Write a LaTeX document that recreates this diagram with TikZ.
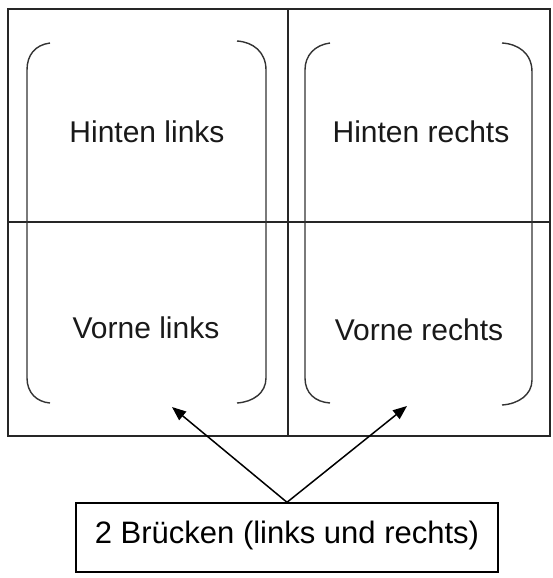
\documentclass[tikz,border=0pt]{standalone}
\usepackage{fontspec}
\setmainfont{Liberation Sans}
\usetikzlibrary{arrows.meta}
\begin{document}
\begin{tikzpicture}[x=1pt,y=-1pt,
  frame/.style={line width=1.4pt,draw=black!85},
  brk/.style={line width=1.4pt,draw=black!80},
  lbl/.style={font=\fontsize{30}{35}\selectfont,text=black!90,inner sep=0pt},
  arr/.style={line width=1.5pt,-{Triangle[length=14pt,width=11pt]}}]
\useasboundingbox (0,0) rectangle (553,578);
% outer frame and dividers
\draw[frame] (8,9) rectangle (550,436);
\draw[frame] (288,9) -- (288,436);
\draw[frame] (8,222) -- (550,222);
% left brackets
\draw[brk] (50,43) .. controls (35,45) and (27,55) .. (27,70) -- (27,378) .. controls (27,393) and (37,402) .. (50,403);
\draw[brk] (237,41) .. controls (253,42) and (266,52) .. (266,70) -- (266,378) .. controls (266,393) and (253,402) .. (237,403);
% right brackets
\draw[brk] (330,43) .. controls (315,45) and (305,55) .. (305,70) -- (305,378) .. controls (305,393) and (315,402) .. (330,403);
\draw[brk] (502,43) .. controls (518,44) and (532,53) .. (532,72) -- (532,380) .. controls (532,395) and (518,404) .. (502,405);
% labels
\node[lbl] (hl) at (147,132) {Hinten links};
\node[lbl] (hr) at (421,132) {Hinten rechts};
\node[lbl] (vl) at (146,328) {Vorne links};
\node[lbl] (vr) at (419,330) {Vorne rechts};
% bottom box
\node[draw,line width=1.4pt,minimum width=422pt,minimum height=69pt,inner sep=0pt,
      text height=22pt,text depth=11pt,
      font=\fontsize{31}{36}\selectfont] (box) at (287,537.5) {2 Brücken (links und rechts)};
\coordinate (tl) at (172,407);
\coordinate (tr) at (407,406);
\draw[arr] (box.north) -- (tl);
\draw[arr] (box.north) -- (tr);
\end{tikzpicture}
\end{document}
